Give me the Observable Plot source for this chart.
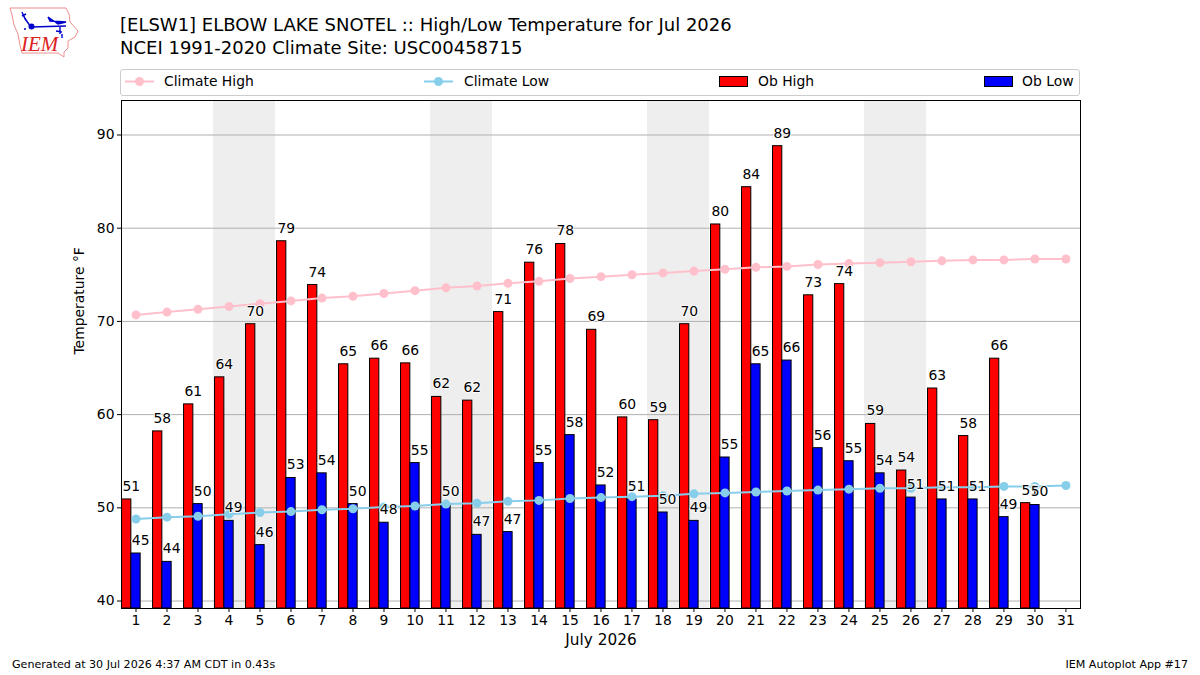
<!DOCTYPE html>
<html>
<head>
<meta charset="utf-8">
<script src="https://cdn.jsdelivr.net/npm/d3@7"></script>
<script src="https://cdn.jsdelivr.net/npm/@observablehq/plot@0.6"></script>
<style>
html,body{margin:0;padding:0;background:#fff;width:1200px;height:675px;overflow:hidden}
body{position:relative;font-family:"DejaVu Sans",sans-serif;color:#000}
.abs{position:absolute;white-space:nowrap}
#chart{position:absolute;left:0;top:96px}
#chart svg{display:block;overflow:visible}
.title{font-size:18px;left:120px;line-height:24px}
.leg{font-size:13.9px;top:73px;line-height:17px}
#legendbox{left:120px;top:69px;width:958px;height:25px;border:1px solid #ccc;border-radius:3px}
.foot{font-size:11.1px;top:658px;line-height:14px}
</style>
</head>
<body>
<svg class="abs" style="left:0;top:0" width="90" height="62" viewBox="0 0 90 62">
  <path d="M10,8 L66,8 L69,14 L70,22 L78,31 L75,37 L68,41 L68,48 L64,52 L64,57 L58,53 L22,53 L20,45 L18,34 L14,25 L12,15 Z" fill="none" stroke="#ee8f8f" stroke-width="1"/>
  <path d="M31,27 L66,26 M48,17 L58,24 L66,22 L50,21 Z M60,26 L60,34 M56,31 L62,32 M62,34 L62,38 M22,12 L25,19 L31,27 M22,16 L26,14" fill="#0000cc" stroke="#0000cc" stroke-width="1.4"/>
  <circle cx="31.500" cy="26.500" r="3" fill="#0000cc"/>
  <circle cx="25" cy="29" r="1" fill="#0000cc"/>
  <text x="21" y="51" font-family="Liberation Serif" font-style="italic" font-size="21" fill="#dd2222">IEM</text>
</svg>
<div class="abs title" style="top:13px">[ELSW1] ELBOW LAKE SNOTEL :: High/Low Temperature for Jul 2026</div>
<div class="abs title" style="top:36px">NCEI 1991-2020 Climate Site: USC00458715</div>
<div class="abs" id="legendbox"></div>
<svg class="abs" style="left:125px;top:73px" width="30" height="17"><line x1="0" x2="29" y1="8.500" y2="8.500" stroke="#ffc0cb" stroke-width="2"/><circle cx="14.500" cy="8.500" r="4.500" fill="#ffc0cb"/></svg>
<div class="abs leg" style="left:164px">Climate High</div>
<svg class="abs" style="left:424px;top:73px" width="30" height="17"><line x1="0" x2="29" y1="8.500" y2="8.500" stroke="#87ceeb" stroke-width="2"/><circle cx="14.500" cy="8.500" r="4.500" fill="#87ceeb"/></svg>
<div class="abs leg" style="left:464px">Climate Low</div>
<div class="abs" style="left:719px;top:76px;width:27px;height:9px;background:#f00;border:1px solid #000"></div>
<div class="abs leg" style="left:758px">Ob High</div>
<div class="abs" style="left:984px;top:76px;width:27px;height:9px;background:#00f;border:1px solid #000"></div>
<div class="abs leg" style="left:1022px">Ob Low</div>
<div id="chart"></div>
<div class="abs foot" style="left:12px">Generated at 30 Jul 2026 4:37 AM CDT in 0.43s</div>
<div class="abs foot" style="right:12px">IEM Autoplot App #17</div>
<script>
const days = d3.range(1, 32);
const obHigh = [50.9,58.2,61.1,64,69.7,78.6,73.9,65.4,66,65.5,61.9,61.5,71,76.3,78.3,69.1,59.7,59.4,69.7,80.4,84.4,88.8,72.8,74,59,54,62.8,57.7,66,50.5];
const obLow = [45.1,44.2,50.4,48.6,46,53.2,53.7,50.4,48.4,54.8,50.3,47.1,47.4,54.8,57.8,52.4,50.9,49.5,48.6,55.4,65.4,65.8,56.4,55,53.7,51.1,50.9,50.9,49,50.3];
const climateHigh = [70.7,71,71.3,71.6,71.9,72.2,72.5,72.7,73,73.3,73.6,73.8,74.1,74.3,74.6,74.8,75,75.2,75.4,75.6,75.8,75.9,76.1,76.2,76.3,76.4,76.5,76.6,76.6,76.7,76.7];
const climateLow = [48.8,49,49.1,49.3,49.5,49.6,49.8,49.9,50.1,50.2,50.4,50.5,50.7,50.8,51,51.1,51.2,51.3,51.5,51.6,51.7,51.8,51.9,52,52.1,52.1,52.2,52.2,52.3,52.3,52.4];
const weekendStart = [3.5,10.5,17.5,24.5];
const weekendEnd = [5.5,12.5,19.5,26.5];
const yTicks = [40,50,60,70,80,90];
const barWidth = 0.3;
const yMin = 39.2, yMax = 93.7;

const highRows = obHigh.map((v,i)=>({day:days[i],v}));
const lowRows = obLow.map((v,i)=>({day:days[i],v}));
const climHighRows = climateHigh.map((v,i)=>({day:days[i],v}));
const climLowRows = climateLow.map((v,i)=>({day:days[i],v}));
const bandRows = weekendStart.map((s,i)=>({s,e:weekendEnd[i]}));

const labelStyle = {text:d=>String(Math.round(d.v)),y:"v",dy:-13,fontSize:13.9,fill:"#000",stroke:"#fff",strokeWidth:2,strokeOpacity:0.85,textAnchor:"middle"};

const chart = Plot.plot({
  width:1200, height:559,
  marginTop:4, marginBottom:47, marginLeft:121, marginRight:120,
  style:{fontFamily:"DejaVu Sans",background:"transparent",color:"#000",overflow:"visible"},
  x:{type:"linear",domain:[0.532,31.47]},
  y:{type:"linear",domain:[yMin,yMax]},
  marks:[
    Plot.rect(bandRows,{x1:"s",x2:"e",y1:yMin,y2:yMax,fill:"#eeeeee"}),
    Plot.ruleY(yTicks,{stroke:"#b0b0b0",strokeWidth:1}),
    Plot.rect(highRows,{x1:d=>d.day-barWidth-0.15,x2:d=>d.day-0.15,y1:yMin,y2:"v",fill:"#ff0000",stroke:"#000",strokeWidth:1,clip:true}),
    Plot.rect(lowRows,{x1:d=>d.day-0.15,x2:d=>d.day+barWidth-0.15,y1:yMin,y2:"v",fill:"#0000ff",stroke:"#000",strokeWidth:1,clip:true}),
    Plot.line(climHighRows,{x:"day",y:"v",stroke:"#ffc0cb",strokeWidth:2}),
    Plot.dot(climHighRows,{x:"day",y:"v",fill:"#ffc0cb",r:4.5}),
    Plot.line(climLowRows,{x:"day",y:"v",stroke:"#87ceeb",strokeWidth:2}),
    Plot.dot(climLowRows,{x:"day",y:"v",fill:"#87ceeb",r:4.5}),
    Plot.text(highRows,{...labelStyle,x:d=>d.day-0.15}),
    Plot.text(lowRows,{...labelStyle,x:d=>d.day+0.15}),
    Plot.frame({stroke:"#000",strokeWidth:1}),
    Plot.axisX({ticks:days,tickFormat:d=>String(d),tickSize:4,tickPadding:3,fontSize:13.9,label:null,stroke:"#000",strokeWidth:1}),
    Plot.axisY({ticks:yTicks,tickFormat:d=>String(d),tickSize:4,tickPadding:3,fontSize:13.9,label:null,stroke:"#000",strokeWidth:1}),
    Plot.text(["July 2026"],{frameAnchor:"bottom",dy:36,fontSize:15.3,fill:"#000"}),
    Plot.text(["Temperature °F"],{frameAnchor:"left",dx:-42,rotate:-90,fontSize:13.9,fill:"#000"})
  ]
});
document.getElementById("chart").appendChild(chart);
</script>
</body>
</html>
